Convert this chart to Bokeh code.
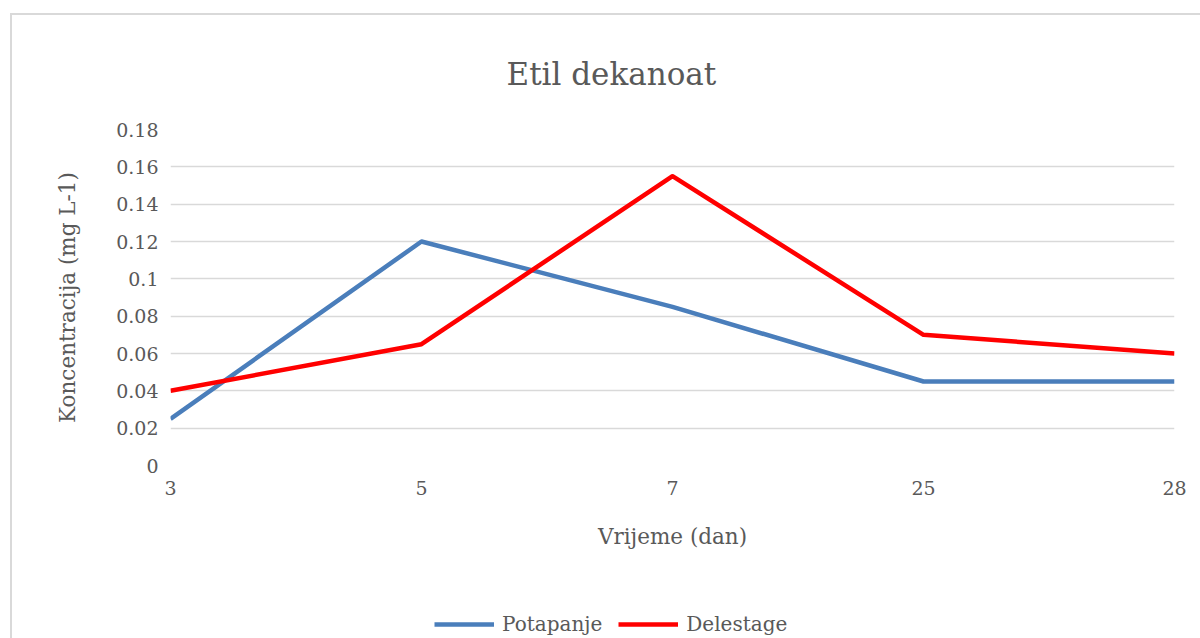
from bokeh.plotting import figure
from bokeh.layouts import column
from bokeh.models import FixedTicker, Range1d, Legend, LegendItem, ColumnDataSource
from bokeh.embed import file_html
from bokeh.resources import INLINE

# ---- data ----
categories = ["3", "5", "7", "25", "28"]
potapanje = [0.025, 0.12, 0.085, 0.045, 0.045]
delestage = [0.04, 0.065, 0.155, 0.07, 0.06]
y_ticks = [0, 0.02, 0.04, 0.06, 0.08, 0.1, 0.12, 0.14, 0.16, 0.18]
y_tick_labels = ["0", "0.02", "0.04", "0.06", "0.08", "0.1", "0.12", "0.14", "0.16", "0.18"]
series_names = ["Potapanje", "Delestage"]
series_colors = ["#4a7ebb", "#ff0000"]
title_text = "Etil dekanoat"
x_title = "Vrijeme (dan)"
y_title = "Koncentracija (mg L-1)"

FONT = "DejaVu Serif"
TXT = "#595959"
GRID = "#d9d9d9"

x_idx = list(range(len(categories)))
src = ColumnDataSource(dict(x=x_idx, pot=potapanje, dele=delestage))

p = figure(output_backend="svg", toolbar_location=None,
           frame_width=1004, frame_height=336,
           min_border_left=158, min_border_top=114,
           min_border_right=26, min_border_bottom=135,
           x_range=Range1d(0, len(categories) - 1),
           y_range=Range1d(0, 0.18))
p.outline_line_color = None
p.background_fill_color = "white"
p.border_fill_color = "white"

# title
p.title.text = title_text
p.title.text_font = FONT
p.title.text_font_size = "31px"
p.title.text_font_style = "normal"
p.title.text_color = TXT
p.title.align = "left"
p.title.offset = 336
p.title.standoff = 75

# axes
p.xaxis.ticker = FixedTicker(ticks=x_idx)
p.xaxis.major_label_overrides = {i: c for i, c in zip(x_idx, categories)}
p.yaxis.ticker = FixedTicker(ticks=y_ticks)
p.yaxis.major_label_overrides = {t: l for t, l in zip(y_ticks, y_tick_labels)}
for ax in (p.xaxis, p.yaxis):
    ax.axis_line_color = None
    ax.major_tick_line_color = None
    ax.minor_tick_line_color = None
    ax.major_label_text_font = FONT
    ax.major_label_text_font_size = "19px"
    ax.major_label_text_color = TXT
    ax.axis_label_text_font = FONT
    ax.axis_label_text_font_size = "21.5px"
    ax.axis_label_text_font_style = "normal"
    ax.axis_label_text_color = TXT
p.xaxis.axis_label = x_title
p.yaxis.axis_label = y_title
p.xaxis.major_label_standoff = 9
p.xaxis.axis_label_standoff = 26
p.yaxis.major_label_standoff = 6
p.yaxis.axis_label_standoff = 33

p.xgrid.grid_line_color = None
p.ygrid.grid_line_color = GRID
p.ygrid.grid_line_width = 1.5

p.line("x", "pot", source=src, line_color=series_colors[0], line_width=4.5, line_join="round")
p.line("x", "dele", source=src, line_color=series_colors[1], line_width=4.5, line_join="round")

# legend strip below the chart (its frame is aligned with the main frame;
# the series are drawn out of its visible y-range so only the legend shows)
leg = figure(output_backend="svg", toolbar_location=None,
             width=1188, height=38, min_border=0,
             x_axis_location=None, y_axis_location=None,
             x_range=Range1d(0, len(categories) - 1), y_range=Range1d(1, 2))
leg.outline_line_color = None
leg.grid.visible = False
leg.background_fill_color = "white"
leg.border_fill_color = "white"
items = []
for name, col, key in zip(series_names, series_colors, ["pot", "dele"]):
    r = leg.line("x", key, source=src, line_color=col, line_width=4.5)
    items.append(LegendItem(label=name, renderers=[r]))
legend = Legend(items=items, orientation="horizontal", location=(264, 2),
                padding=0, margin=0, spacing=16,
                glyph_width=60, glyph_height=20, label_height=20,
                label_standoff=8, border_line_color=None,
                background_fill_alpha=0,
                label_text_font=FONT, label_text_font_size="20px",
                label_text_color=TXT)
leg.add_layout(legend, "center")

layout = column(p, leg, spacing=0,
                styles={"margin-left": "10px", "margin-top": "13px",
                        "margin-bottom": "-15px",
                        "border-left": "2px solid #d9d9d9",
                        "border-top": "2px solid #d9d9d9"})

open("out.html", "w").write(file_html(layout, INLINE))
